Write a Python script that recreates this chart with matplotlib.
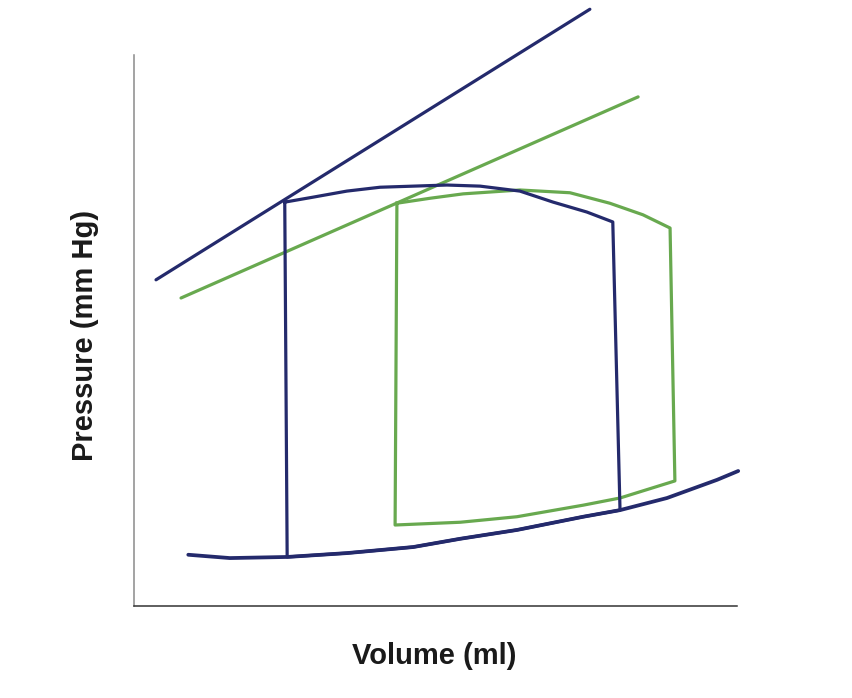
import matplotlib.pyplot as plt

# pressure-volume loops (volume and pressure in arbitrary units, 0..100)
espvr_blue_x = [3.65, 75.6]
espvr_blue_y = [59.2, 108.3]
espvr_green_x = [7.8, 83.6]
espvr_green_y = [55.9, 92.4]

# end-diastolic pressure-volume relation (also the bottom of the blue loop)
edpvr_x = [9.0, 15.9, 25.4, 35.3, 46.3, 54.1, 63.5, 74.5, 80.6, 88.4, 96.7, 100.2]
edpvr_y = [9.3, 8.7, 8.9, 9.6, 10.7, 12.2, 13.8, 16.2, 17.4, 19.6, 22.9, 24.5]

# blue loop: ejection (top) curve, from left corner to end-systole
blue_top_x = [25.0, 29.7, 35.3, 40.8, 46.3, 51.9, 57.4, 64.0, 69.5, 75.1, 79.4]
blue_top_y = [73.3, 74.2, 75.3, 76.0, 76.2, 76.4, 76.2, 75.3, 73.3, 71.5, 69.7]

# green loop: top curve, then bottom curve (right to left)
green_top_x = [43.6, 49.1, 54.6, 64.0, 72.3, 78.9, 84.4, 88.9]
green_top_y = [73.1, 74.0, 74.8, 75.5, 75.0, 73.1, 71.0, 68.6]
green_bot_x = [89.7, 80.6, 74.5, 63.5, 54.1, 43.3]
green_bot_y = [22.7, 19.6, 18.3, 16.2, 15.2, 14.7]

blue = '#242a6c'
green = '#68a94f'

# close the loops
i0, i1 = 2, 8  # edpvr indices of blue loop bottom corners
loop_blue_x = blue_top_x + edpvr_x[i0:i1 + 1][::-1] + [blue_top_x[0]]
loop_blue_y = blue_top_y + edpvr_y[i0:i1 + 1][::-1] + [blue_top_y[0]]
loop_green_x = green_top_x + green_bot_x + [green_top_x[0]]
loop_green_y = green_top_y + green_bot_y + [green_top_y[0]]

fig = plt.figure(figsize=(8.52, 6.98), dpi=100)
ax = fig.add_axes([134/852, 92/698, 603/852, 551/698])
ax.set_xlim(0, 100)
ax.set_ylim(0, 100)

lw = 2.3
ax.plot(espvr_blue_x, espvr_blue_y, color=blue, lw=lw, clip_on=False, solid_capstyle='round')
ax.plot(espvr_green_x, espvr_green_y, color=green, lw=lw, clip_on=False, solid_capstyle='round')
ax.plot(loop_green_x, loop_green_y, color=green, lw=lw, clip_on=False, solid_joinstyle='round')
ax.plot(loop_blue_x, loop_blue_y, color=blue, lw=lw, clip_on=False, solid_joinstyle='round')
ax.plot(edpvr_x, edpvr_y, color=blue, lw=lw + 0.4, clip_on=False,
        solid_capstyle='round', solid_joinstyle='round')

for s in ['top', 'right']:
    ax.spines[s].set_visible(False)
ax.spines['left'].set_color('#8a8a8a')
ax.spines['bottom'].set_color('#333333')
ax.spines['left'].set_linewidth(1.1)
ax.spines['bottom'].set_linewidth(1.1)
ax.set_xticks([])
ax.set_yticks([])

fig.text(434/852, 1 - 656/698, 'Volume (ml)', ha='center', va='center',
         fontsize=21, fontweight='bold', family='Liberation Sans', color='#1a1a1a')
fig.text(85/852, 1 - 335/698, 'Pressure (mm Hg)', ha='center', va='center',
         rotation=90, fontsize=21, fontweight='bold', family='Liberation Sans', color='#1a1a1a')

fig.savefig('out.png', dpi=100)
